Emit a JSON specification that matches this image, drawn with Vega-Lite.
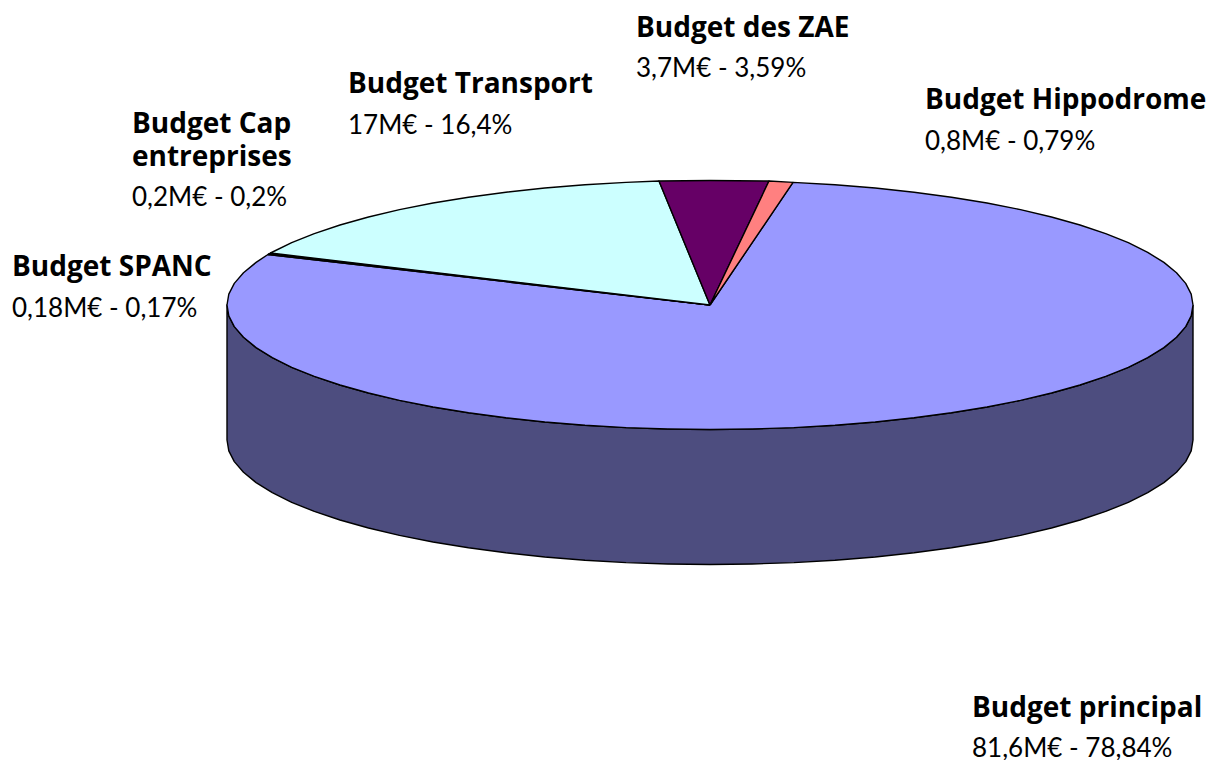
{"$schema":"https://vega.github.io/schema/vega-lite/v6.json","autosize":{"type":"none"},"width":1210,"height":760,"padding":0,"background":"white","view":{"stroke":null},
"datasets":{"shapes":[
{"s":"Côté","x":483,"y":0},{"s":"Côté","x":481.2,"y":-10.9},{"s":"Côté","x":475.7,"y":-21.6},{"s":"Côté","x":466.5,"y":-32.2},{"s":"Côté","x":453.9,"y":-42.6},{"s":"Côté","x":437.7,"y":-52.6},{"s":"Côté","x":418.3,"y":-62.3},{"s":"Côté","x":395.7,"y":-71.4},{"s":"Côté","x":370,"y":-80},{"s":"Côté","x":341.5,"y":-88},{"s":"Côté","x":310.5,"y":-95.4},{"s":"Côté","x":277,"y":-102},{"s":"Côté","x":241.5,"y":-107.8},{"s":"Côté","x":204.1,"y":-112.8},{"s":"Côté","x":165.2,"y":-117},{"s":"Côté","x":125,"y":-120.3},{"s":"Côté","x":83.9,"y":-122.6},{"s":"Côté","x":42.1,"y":-124},{"s":"Côté","x":0,"y":-124.5},{"s":"Côté","x":-42.1,"y":-124},{"s":"Côté","x":-83.9,"y":-122.6},{"s":"Côté","x":-125,"y":-120.3},{"s":"Côté","x":-165.2,"y":-117},{"s":"Côté","x":-204.1,"y":-112.8},{"s":"Côté","x":-241.5,"y":-107.8},{"s":"Côté","x":-277,"y":-102},{"s":"Côté","x":-310.5,"y":-95.4},{"s":"Côté","x":-341.5,"y":-88},{"s":"Côté","x":-370,"y":-80},{"s":"Côté","x":-395.7,"y":-71.4},{"s":"Côté","x":-418.3,"y":-62.3},{"s":"Côté","x":-437.7,"y":-52.6},{"s":"Côté","x":-453.9,"y":-42.6},{"s":"Côté","x":-466.5,"y":-32.2},{"s":"Côté","x":-475.7,"y":-21.6},{"s":"Côté","x":-481.2,"y":-10.9},{"s":"Côté","x":-483,"y":0},
{"s":"Côté","x":-483,"y":-135},{"s":"Côté","x":-481.2,"y":-145.9},{"s":"Côté","x":-475.7,"y":-156.6},{"s":"Côté","x":-466.5,"y":-167.2},{"s":"Côté","x":-453.9,"y":-177.6},{"s":"Côté","x":-437.7,"y":-187.6},{"s":"Côté","x":-418.3,"y":-197.3},{"s":"Côté","x":-395.7,"y":-206.4},{"s":"Côté","x":-370,"y":-215},{"s":"Côté","x":-341.5,"y":-223},{"s":"Côté","x":-310.5,"y":-230.4},{"s":"Côté","x":-277,"y":-237},{"s":"Côté","x":-241.5,"y":-242.8},{"s":"Côté","x":-204.1,"y":-247.8},{"s":"Côté","x":-165.2,"y":-252},{"s":"Côté","x":-125,"y":-255.3},{"s":"Côté","x":-83.9,"y":-257.6},{"s":"Côté","x":-42.1,"y":-259},{"s":"Côté","x":0,"y":-259.5},{"s":"Côté","x":42.1,"y":-259},{"s":"Côté","x":83.9,"y":-257.6},{"s":"Côté","x":125,"y":-255.3},{"s":"Côté","x":165.2,"y":-252},{"s":"Côté","x":204.1,"y":-247.8},{"s":"Côté","x":241.5,"y":-242.8},{"s":"Côté","x":277,"y":-237},{"s":"Côté","x":310.5,"y":-230.4},{"s":"Côté","x":341.5,"y":-223},{"s":"Côté","x":370,"y":-215},{"s":"Côté","x":395.7,"y":-206.4},{"s":"Côté","x":418.3,"y":-197.3},{"s":"Côté","x":437.7,"y":-187.6},{"s":"Côté","x":453.9,"y":-177.6},{"s":"Côté","x":466.5,"y":-167.2},{"s":"Côté","x":475.7,"y":-156.6},{"s":"Côté","x":481.2,"y":-145.9},{"s":"Côté","x":483,"y":-135},{"s":"Côté","x":483,"y":0},
{"s":"Budget principal","x":0,"y":0},{"s":"Budget principal","x":83,"y":122.6},{"s":"Budget principal","x":125,"y":120.3},{"s":"Budget principal","x":165.2,"y":117},{"s":"Budget principal","x":204.1,"y":112.8},{"s":"Budget principal","x":241.5,"y":107.8},{"s":"Budget principal","x":277,"y":102},{"s":"Budget principal","x":310.5,"y":95.4},{"s":"Budget principal","x":341.5,"y":88},{"s":"Budget principal","x":370,"y":80},{"s":"Budget principal","x":395.7,"y":71.4},{"s":"Budget principal","x":418.3,"y":62.3},{"s":"Budget principal","x":437.7,"y":52.6},{"s":"Budget principal","x":453.9,"y":42.6},{"s":"Budget principal","x":466.5,"y":32.2},{"s":"Budget principal","x":475.7,"y":21.6},{"s":"Budget principal","x":481.2,"y":10.9},{"s":"Budget principal","x":483,"y":0},{"s":"Budget principal","x":481.2,"y":-10.9},{"s":"Budget principal","x":475.7,"y":-21.6},{"s":"Budget principal","x":466.5,"y":-32.2},{"s":"Budget principal","x":453.9,"y":-42.6},{"s":"Budget principal","x":437.7,"y":-52.6},{"s":"Budget principal","x":418.3,"y":-62.3},{"s":"Budget principal","x":395.7,"y":-71.4},{"s":"Budget principal","x":370,"y":-80},{"s":"Budget principal","x":341.5,"y":-88},{"s":"Budget principal","x":310.5,"y":-95.4},{"s":"Budget principal","x":277,"y":-102},{"s":"Budget principal","x":241.5,"y":-107.8},{"s":"Budget principal","x":204.1,"y":-112.8},{"s":"Budget principal","x":165.2,"y":-117},{"s":"Budget principal","x":125,"y":-120.3},{"s":"Budget principal","x":83.9,"y":-122.6},{"s":"Budget principal","x":42.1,"y":-124},{"s":"Budget principal","x":0,"y":-124.5},{"s":"Budget principal","x":-42.1,"y":-124},{"s":"Budget principal","x":-83.9,"y":-122.6},{"s":"Budget principal","x":-125,"y":-120.3},{"s":"Budget principal","x":-165.2,"y":-117},{"s":"Budget principal","x":-204.1,"y":-112.8},{"s":"Budget principal","x":-241.5,"y":-107.8},{"s":"Budget principal","x":-277,"y":-102},{"s":"Budget principal","x":-310.5,"y":-95.4},{"s":"Budget principal","x":-341.5,"y":-88},{"s":"Budget principal","x":-370,"y":-80},{"s":"Budget principal","x":-395.7,"y":-71.4},{"s":"Budget principal","x":-418.3,"y":-62.3},{"s":"Budget principal","x":-437.7,"y":-52.6},{"s":"Budget principal","x":-453.9,"y":-42.6},{"s":"Budget principal","x":-466.5,"y":-32.2},{"s":"Budget principal","x":-475.7,"y":-21.6},{"s":"Budget principal","x":-481.2,"y":-10.9},{"s":"Budget principal","x":-483,"y":0},{"s":"Budget principal","x":-481.2,"y":10.9},{"s":"Budget principal","x":-475.7,"y":21.6},{"s":"Budget principal","x":-466.5,"y":32.2},{"s":"Budget principal","x":-453.9,"y":42.6},{"s":"Budget principal","x":-442,"y":50.5},{"s":"Budget principal","x":0,"y":0},
{"s":"Budget SPANC","x":0,"y":0},{"s":"Budget SPANC","x":-442,"y":50.5},{"s":"Budget SPANC","x":-441,"y":51.2},{"s":"Budget SPANC","x":0,"y":0},
{"s":"Budget Cap entreprises","x":0,"y":0},{"s":"Budget Cap entreprises","x":-441,"y":51.2},{"s":"Budget Cap entreprises","x":-439.5,"y":52},{"s":"Budget Cap entreprises","x":0,"y":0},
{"s":"Budget Transport","x":0,"y":0},{"s":"Budget Transport","x":-439.5,"y":52},{"s":"Budget Transport","x":-418.3,"y":62.3},{"s":"Budget Transport","x":-395.7,"y":71.4},{"s":"Budget Transport","x":-370,"y":80},{"s":"Budget Transport","x":-341.5,"y":88},{"s":"Budget Transport","x":-310.5,"y":95.4},{"s":"Budget Transport","x":-277,"y":102},{"s":"Budget Transport","x":-241.5,"y":107.8},{"s":"Budget Transport","x":-204.1,"y":112.8},{"s":"Budget Transport","x":-165.2,"y":117},{"s":"Budget Transport","x":-125,"y":120.3},{"s":"Budget Transport","x":-83.9,"y":122.6},{"s":"Budget Transport","x":-51,"y":124},{"s":"Budget Transport","x":0,"y":0},
{"s":"Budget des ZAE","x":0,"y":0},{"s":"Budget des ZAE","x":-51,"y":124},{"s":"Budget des ZAE","x":0,"y":124.5},{"s":"Budget des ZAE","x":59,"y":124},{"s":"Budget des ZAE","x":0,"y":0},
{"s":"Budget Hippodrome","x":0,"y":0},{"s":"Budget Hippodrome","x":59,"y":124},{"s":"Budget Hippodrome","x":83,"y":122.6},{"s":"Budget Hippodrome","x":0,"y":0}
],
"labels":[
{"t":"Budget des ZAE","x":-74,"y":268,"w":"bold"},{"t":"Budget Hippodrome","x":215,"y":196,"w":"bold"},{"t":"Budget Transport","x":-362,"y":212,"w":"bold"},{"t":"Budget Cap","x":-578,"y":172,"w":"bold"},{"t":"entreprises","x":-578,"y":139,"w":"bold"},{"t":"Budget SPANC","x":-698,"y":29,"w":"bold"},{"t":"Budget principal","x":262,"y":-412,"w":"bold"},
{"t":"3,7M€ - 3,59%","x":-74,"y":228,"w":"normal"},{"t":"0,8M€ - 0,79%","x":215,"y":155,"w":"normal"},{"t":"17M€ - 16,4%","x":-362,"y":171,"w":"normal"},{"t":"0,2M€ - 0,2%","x":-578,"y":99,"w":"normal"},{"t":"0,18M€ - 0,17%","x":-698,"y":-12,"w":"normal"},{"t":"81,6M€ - 78,84%","x":262,"y":-452,"w":"normal"}
]},
"encoding":{
"x":{"field":"x","type":"quantitative","axis":null,"scale":{"domain":[-710,500],"nice":false,"zero":false}},
"y":{"field":"y","type":"quantitative","axis":null,"scale":{"domain":[-455,305],"nice":false,"zero":false}}},
"layer":[
{"data":{"name":"shapes"},"mark":{"type":"line","stroke":"black","strokeWidth":1.4,"strokeJoin":"round","clip":false},
"encoding":{"order":{"value":null},"detail":{"field":"s"},"fill":{"field":"s","type":"nominal","legend":null,"scale":{"domain":["Côté","Budget principal","Budget SPANC","Budget Cap entreprises","Budget Transport","Budget des ZAE","Budget Hippodrome"],"range":["#4d4d7f","#9999ff","#ffffcc","#ffffcc","#ccffff","#660066","#ff8080"]}}}},
{"data":{"name":"labels"},"transform":[{"filter":"datum.w==='bold'"}],"mark":{"type":"text","align":"left","baseline":"alphabetic","font":"Open Sans","fontSize":28,"fontWeight":"bold","color":"black"},"encoding":{"text":{"field":"t"}}},
{"data":{"name":"labels"},"transform":[{"filter":"datum.w==='normal'"}],"mark":{"type":"text","align":"left","baseline":"alphabetic","font":"Lato","fontSize":26,"fontWeight":"normal","color":"black"},"encoding":{"text":{"field":"t"}}}
]}
